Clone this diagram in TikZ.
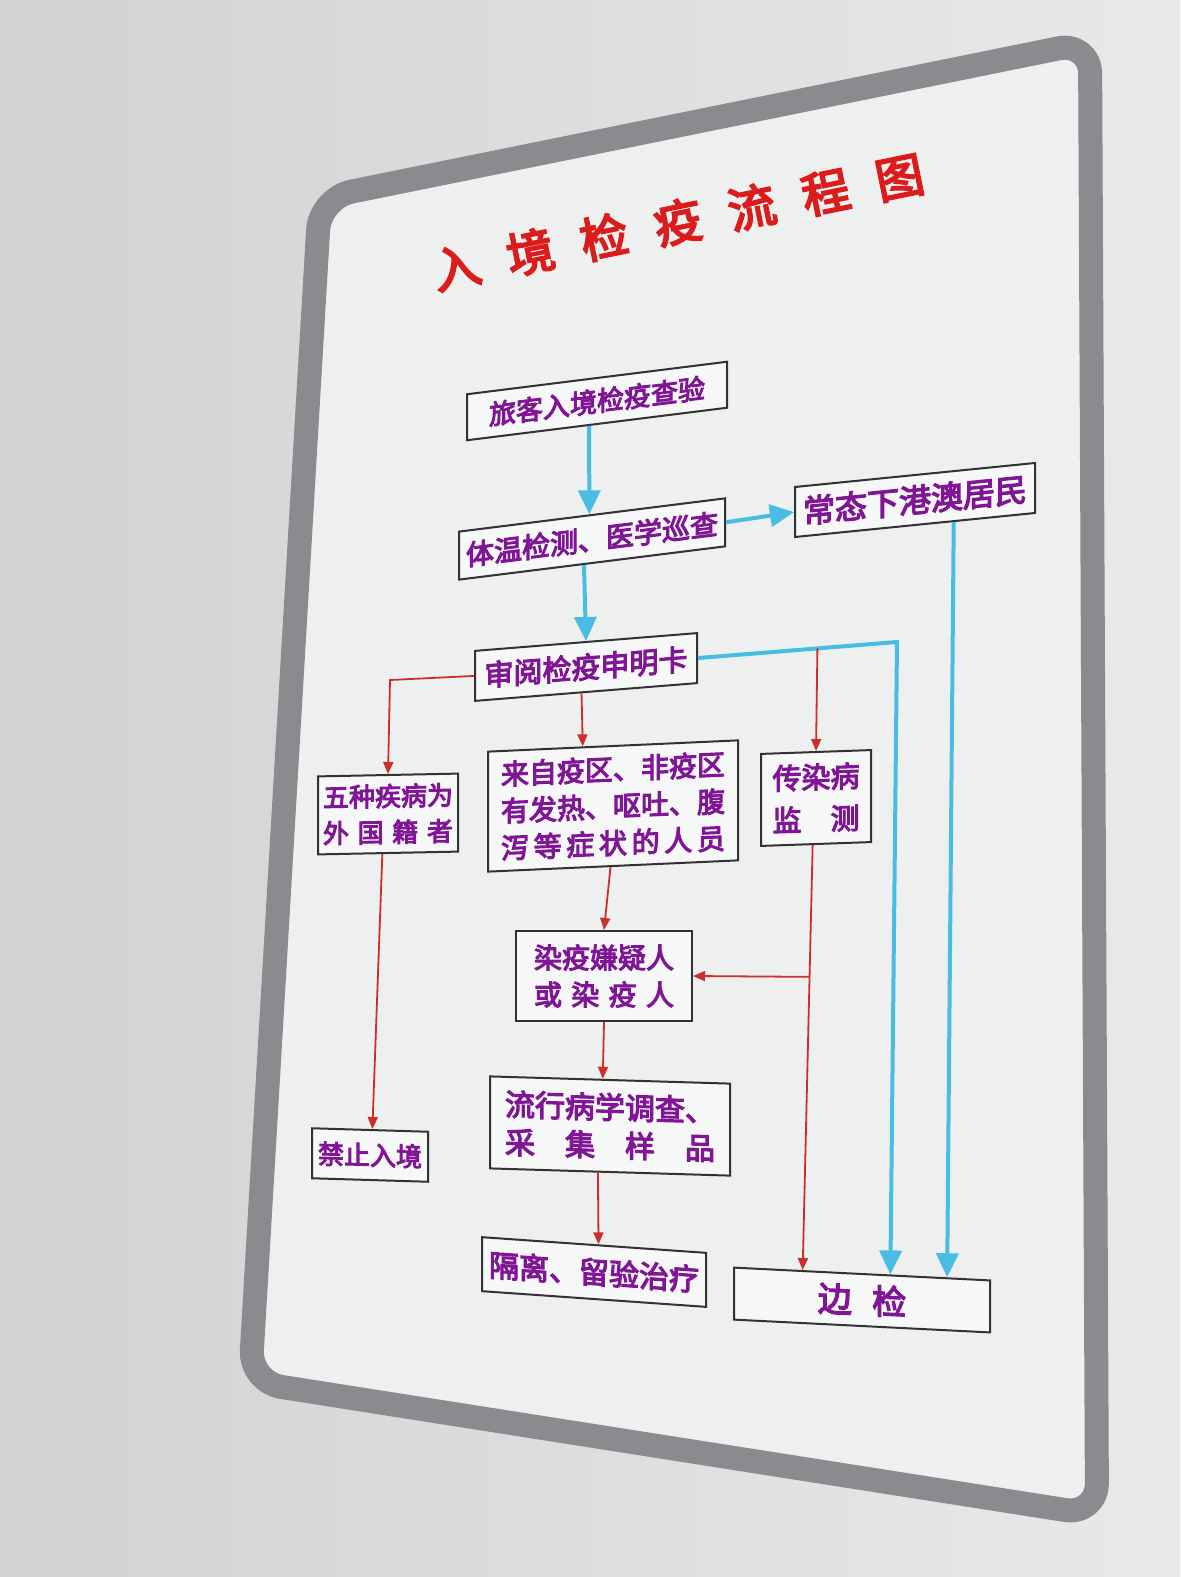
\documentclass[tikz,border=0pt]{standalone}
\usepackage{fontspec}
\newfontfamily\cjk[FakeBold=4]{Noto Sans CJK SC}
\usetikzlibrary{arrows.meta,calc}
\definecolor{wallL}{RGB}{208,211,210}
\definecolor{wallR}{RGB}{232,234,233}
\definecolor{boardc}{RGB}{238,240,239}
\definecolor{framec}{RGB}{138,138,143}
\definecolor{boxline}{RGB}{50,50,50}
\definecolor{txt}{RGB}{128,22,150}
\definecolor{arrowblue}{RGB}{72,188,226}
\definecolor{linered}{RGB}{205,45,45}
\definecolor{titlered}{RGB}{218,28,28}
\tikzset{
  box/.style={draw=boxline, line width=1pt, fill=white!50!boardc, text=txt,
    align=center, inner sep=1pt},
  blu/.style={draw=arrowblue, line width=2pt, -{Triangle[length=12pt,width=11pt]}},
  blul/.style={draw=arrowblue, line width=2pt},
  rd/.style={draw=linered, line width=0.9pt, -{Triangle[length=6pt,width=5pt]}},
  rdl/.style={draw=linered, line width=0.9pt},
}
\newcommand{\fs}[2]{\cjk\fontsize{#1}{#2}\selectfont}
\begin{document}
\begin{tikzpicture}[x=0.5pt,y=-0.5pt]
\useasboundingbox (0,0) rectangle (1180,1577);
\shade[left color=wallL, right color=wallR] (0,0) rectangle (1180,1577);
% board and frame
\fill[boardc, rounded corners=14pt] (320,198) -- (1090,42) -- (1097,1515) -- (250,1382) -- cycle;
\draw[framec, line width=12pt, rounded corners=16pt] (320,198) -- (1090,42) -- (1097,1515) -- (250,1382) -- cycle;

% title
\node[text=titlered, rotate=11.5, font=\fs{24}{26}] (title) at (678,222)
  {\makebox[250pt][s]{入\hfil 境\hfil 检\hfil 疫\hfil 流\hfil 程\hfil 图}};

% boxes
\node[box, minimum width=130pt, minimum height=23pt, yslant=0.125, font=\fs{13.5}{16}] (n1) at (597,401) {旅客入境检疫查验};
\node[box, minimum width=133pt, minimum height=24pt, yslant=0.125, font=\fs{14}{16}] (n2) at (592,539) {体温检测、医学巡查};
\node[box, minimum width=120pt, minimum height=25pt, yslant=0.10, font=\fs{16}{18}] (n3) at (915,500) {常态下港澳居民};
\node[box, minimum width=111pt, minimum height=25pt, yslant=0.08, font=\fs{14.5}{17}] (n4) at (586,667) {审阅检疫申明卡};
\node[box, minimum width=70pt, minimum height=39pt, yslant=0.02, font=\fs{13}{18}] (n5) at (388,814)
  {五种疾病为\\\makebox[5em][s]{外\hfil 国\hfil 籍\hfil 者}};
\node[box, minimum width=125pt, minimum height=60pt, yslant=0.045, font=\fs{14}{18.5}] (n6) at (613,806)
  {来自疫区、非疫区\\有发热、呕吐、腹\\\makebox[8em][s]{泻\hfil 等\hfil 症\hfil 状\hfil 的\hfil 人\hfil 员}};
\node[box, minimum width=55pt, minimum height=46pt, yslant=0.035, font=\fs{14.5}{21}] (n7) at (816,798)
  {传染病\\\makebox[3em][s]{监\hfil 测}};
\node[box, minimum width=88pt, minimum height=45pt, font=\fs{14}{18.5}] (n8) at (604,976)
  {染疫嫌疑人\\\makebox[5em][s]{或\hfil 染\hfil 疫\hfil 人}};
\node[box, minimum width=120pt, minimum height=46pt, yslant=-0.03, font=\fs{15}{19}] (n9) at (610,1126)
  {流行病学调查、\\\makebox[7em][s]{采\hfil 集\hfil 样\hfil 品}};
\node[box, minimum width=58pt, minimum height=25pt, yslant=-0.03, font=\fs{13}{16}] (n10) at (370,1155) {禁止入境};
\node[box, minimum width=112pt, minimum height=27pt, yslant=-0.07, font=\fs{15}{17}] (n11) at (594,1272) {隔离、留验治疗};
\node[box, minimum width=128pt, minimum height=26pt, yslant=-0.05, font=\fs{17}{19}] (n12) at (862,1300) {边\hspace{0.6em}检};

% helper coordinates
\coordinate (b1) at (897,642);
\coordinate (r1) at (390,680);
\coordinate (r2) at ($(n4.east)!0.6!(b1)$);
\coordinate (s7) at ($(n7.south west)!0.47!(n7.south east)$);
\coordinate (e7) at ($(n12.north west)!0.27!(n12.north east)$);
\coordinate (j7) at ($(s7)!0.31!(e7)$);

% blue connectors
\draw[blu] ($(n1.south west)!0.47!(n1.south east)$) -- ($(n2.north west)!0.49!(n2.north east)$);
\draw[blu] (n2.east) -- (n3.west);
\draw[blu] ($(n2.south west)!0.47!(n2.south east)$) -- ($(n4.north west)!0.5!(n4.north east)$);
\draw[blu] (n4.east) -- (b1) -- ($(n12.north west)!0.61!(n12.north east)$);
\draw[blu] ($(n3.south west)!0.66!(n3.south east)$) -- ($(n12.north west)!0.83!(n12.north east)$);

% red connectors
\draw[rd] (n4.west) -- (r1) -- (n5.north);
\draw[rd] ($(n4.south west)!0.48!(n4.south east)$) -- ($(n6.north west)!0.38!(n6.north east)$);
\draw[rd] (r2) -- (n7.north);
\draw[rd] ($(n5.south west)!0.46!(n5.south east)$) -- ($(n10.north west)!0.52!(n10.north east)$);
\draw[rd] ($(n6.south west)!0.49!(n6.south east)$) -- (n8.north);
\draw[rd] (s7) -- (e7);
\draw[rd] (j7) -- (n8.east);
\draw[rd] (n8.south) -- ($(n9.north west)!0.47!(n9.north east)$);
\draw[rd] ($(n9.south west)!0.45!(n9.south east)$) -- ($(n11.north west)!0.52!(n11.north east)$);
\end{tikzpicture}
\end{document}
